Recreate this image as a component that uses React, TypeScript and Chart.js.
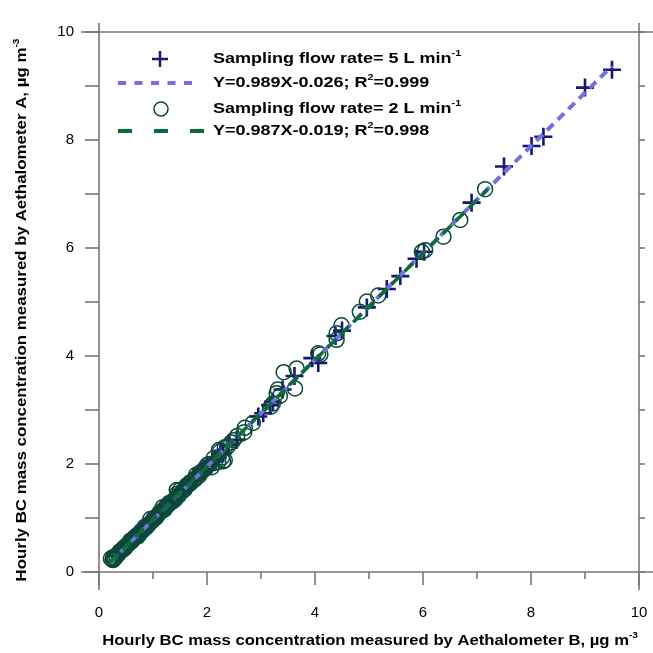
import { useEffect, useRef } from "react";
import { Chart, registerables } from "chart.js";

Chart.register(...registerables);

// ---------- data ----------
const tickValues = [0, 1, 2, 3, 4, 5, 6, 7, 8, 9, 10];
const tickLabels = ["0", "", "2", "", "4", "", "6", "", "8", "", "10"];

// Sampling flow rate = 5 L/min (crosses)
const flow5X = [
  9.5, 9.0, 8.23, 8.01, 7.5, 6.9, 6.02, 5.88, 5.58, 5.33, 4.96, 4.5, 4.38, 4.06, 3.95,
  3.62, 3.4, 3.17, 3.22, 3.04, 2.95, 2.55, 2.4, 2.3, 2.2, 2.1, 2.0, 1.9, 1.8, 1.72,
  1.65, 1.55, 1.45, 1.4, 1.3, 1.22, 1.15, 1.05, 1.0, 0.92, 0.85, 0.8, 0.72, 0.65,
  0.58, 0.5, 0.45, 0.38, 0.32, 1.95, 1.75, 1.6, 1.35, 1.1, 0.95, 0.75, 0.6, 0.42,
  2.25, 2.15, 1.5, 1.25, 0.88, 0.68,
];
const flow5Y = [
  9.3, 8.97, 8.06, 7.89, 7.51, 6.84, 5.93, 5.8, 5.48, 5.24, 4.9, 4.47, 4.37, 3.87, 3.96,
  3.63, 3.38, 3.09, 3.15, 2.94, 2.88, 2.45, 2.35, 2.2, 2.12, 2.05, 1.98, 1.85, 1.72, 1.7,
  1.6, 1.52, 1.4, 1.36, 1.25, 1.2, 1.1, 1.02, 0.95, 0.9, 0.8, 0.78, 0.7, 0.62,
  0.55, 0.5, 0.42, 0.36, 0.3, 1.9, 1.76, 1.55, 1.33, 1.06, 0.92, 0.72, 0.6, 0.4,
  2.18, 2.1, 1.47, 1.22, 0.85, 0.66,
];

// Sampling flow rate = 2 L/min (circles)
const flow2X = [
  7.15, 6.69, 6.38, 6.04, 5.98, 5.17, 4.96, 4.83, 4.49, 4.4, 4.4, 4.06, 4.1, 3.66, 3.63,
  3.42, 3.35, 3.31, 3.22, 3.18, 3.29, 2.85, 2.7, 2.69, 2.56, 2.49, 2.45, 2.33, 2.24, 2.22,
  2.21, 2.33, 2.28, 2.09, 2.12, 2.0, 1.95, 1.88, 1.8, 1.75, 1.7, 1.65, 1.6, 1.55, 1.5,
  1.44, 1.45, 1.42, 1.38, 1.3, 1.25, 1.2, 1.18, 1.12, 1.08, 1.02, 0.98, 0.95, 0.9, 0.85,
  0.82, 0.78, 0.75, 0.7, 0.66, 0.62, 0.58, 0.55, 0.5, 0.46, 0.42, 0.38, 0.35, 0.32, 0.3,
  0.28, 0.25, 0.22, 0.27, 2.15, 2.05, 1.98, 1.85, 1.78, 1.68, 1.58, 1.48, 1.35, 1.28,
  1.15, 1.05, 0.92, 0.8, 0.72, 0.6, 0.52, 0.44, 0.36, 0.26, 1.9, 1.62, 1.4, 1.22, 1.0,
  0.87, 0.68, 0.48, 2.3, 2.38,
];
const flow2Y = [
  7.09, 6.52, 6.21, 5.96, 5.93, 5.12, 5.01, 4.82, 4.57, 4.42, 4.3, 4.05, 4.03, 3.77, 3.4,
  3.7, 3.26, 3.38, 3.12, 3.06, 3.31, 2.76, 2.67, 2.59, 2.52, 2.44, 2.4, 2.31, 2.23, 2.26,
  2.04, 2.07, 2.12, 1.94, 2.1, 1.98, 1.9, 1.84, 1.8, 1.7, 1.66, 1.62, 1.55, 1.5, 1.52,
  1.52, 1.45, 1.36, 1.32, 1.28, 1.22, 1.15, 1.2, 1.1, 1.04, 1.0, 0.94, 0.98, 0.86, 0.84,
  0.78, 0.76, 0.7, 0.68, 0.64, 0.6, 0.58, 0.52, 0.48, 0.45, 0.4, 0.38, 0.33, 0.3, 0.26,
  0.24, 0.23, 0.25, 0.28, 2.02, 2.0, 1.92, 1.78, 1.72, 1.63, 1.53, 1.42, 1.3, 1.24,
  1.12, 1.0, 0.88, 0.76, 0.66, 0.56, 0.5, 0.41, 0.33, 0.22, 1.86, 1.6, 1.34, 1.17, 0.96,
  0.82, 0.64, 0.44, 2.05, 2.32,
];

// regression line end points
const fit5X = [0.2, 9.5];
const fit5Y = [0.172, 9.37];
const fit2X = [0.2, 7.2];
const fit2Y = [0.178, 7.087];

const legendTexts = [
  [{ t: "Sampling flow rate= 5 L min" }, { t: "-1", sup: true }],
  [{ t: "Y=0.989X-0.026; R" }, { t: "2", sup: true }, { t: "=0.999" }],
  [{ t: "Sampling flow rate= 2 L min" }, { t: "-1", sup: true }],
  [{ t: "Y=0.987X-0.019; R" }, { t: "2", sup: true }, { t: "=0.998" }],
];
const xTitle = [{ t: "Hourly BC mass concentration measured by Aethalometer B, " }, { t: "\u00b5g m" }, { t: "-3", sup: true }];
const yTitle = [{ t: "Hourly BC mass concentration measured by Aethalometer A, " }, { t: "\u00b5g m" }, { t: "-3", sup: true }];

// ---------- styles ----------
const CROSS = "#16167a";
const CIRCLE = "#0b4a3a";
const PURPLE = "#7272dc";
const GREEN = "#0c6b36";
const FRAME = "#767676";
const FONT = "'Liberation Sans', Arial, sans-serif";

function pts(xs: number[], ys: number[]) {
  return xs.map((x, i) => ({ x, y: ys[i] }));
}

type Part = { t: string; sup?: boolean };

function drawRich(
  ctx: CanvasRenderingContext2D,
  x: number,
  y: number,
  parts: Part[],
  size: number,
  align: "left" | "center",
  hs: number
) {
  const base = `bold ${size}px ${FONT}`;
  const small = `bold ${Math.round(size * 0.62)}px ${FONT}`;
  let total = 0;
  for (const p of parts) {
    ctx.font = p.sup ? small : base;
    total += ctx.measureText(p.t).width;
  }
  ctx.save();
  const sx = align === "center" ? x - (total * hs) / 2 : x;
  ctx.translate(sx, y);
  ctx.scale(hs, 1);
  let cx = 0;
  ctx.textAlign = "left";
  ctx.textBaseline = "middle";
  for (const p of parts) {
    ctx.font = p.sup ? small : base;
    ctx.fillText(p.t, cx, p.sup ? -size * 0.36 : 0);
    cx += ctx.measureText(p.t).width;
  }
  ctx.restore();
}

function line(ctx: CanvasRenderingContext2D, x1: number, y1: number, x2: number, y2: number) {
  ctx.beginPath();
  ctx.moveTo(x1, y1);
  ctx.lineTo(x2, y2);
  ctx.stroke();
}

const framePlugin = {
  id: "framePlugin",
  beforeDatasetsDraw(chart: any) {
    const ctx: CanvasRenderingContext2D = chart.ctx;
    const { left, right, top, bottom } = chart.chartArea;
    const xs = chart.scales.x;
    const ys = chart.scales.y;
    ctx.save();
    ctx.strokeStyle = FRAME;
    ctx.lineWidth = 1.6;
    line(ctx, left - 18, bottom, 653, bottom);
    line(ctx, left - 18, top, 653, top);
    line(ctx, left, top - 9, left, bottom + 18);
    line(ctx, right, top - 9, right, bottom + 18);
    for (const v of tickValues) {
      const px = xs.getPixelForValue(v);
      line(ctx, px, bottom, px, bottom + (v % 2 === 0 ? 13 : 7));
      const py = ys.getPixelForValue(v);
      line(ctx, left - 14, py, left, py);
      line(ctx, right, py, right + 6, py);
    }
    ctx.restore();
  },
  afterDraw(chart: any) {
    const ctx: CanvasRenderingContext2D = chart.ctx;
    ctx.save();
    ctx.fillStyle = "#000";
    // axis titles
    drawRich(ctx, 370, 641, xTitle, 15, "center", 1.11);
    ctx.save();
    ctx.translate(22, 310);
    ctx.rotate(-Math.PI / 2);
    drawRich(ctx, 0, 0, yTitle, 15, "center", 1.125);
    ctx.restore();

    // legend
    const rows = [59, 83, 109, 131];
    const tx = 213;
    ctx.strokeStyle = CROSS;
    ctx.lineWidth = 2.5;
    line(ctx, 152, rows[0], 168, rows[0]);
    line(ctx, 160, rows[0] - 8, 160, rows[0] + 8);
    ctx.strokeStyle = PURPLE;
    ctx.lineWidth = 4;
    ctx.setLineDash([8, 8.5]);
    line(ctx, 118, rows[1], 200, rows[1]);
    ctx.setLineDash([]);
    ctx.strokeStyle = CIRCLE;
    ctx.lineWidth = 1.5;
    ctx.beginPath();
    ctx.arc(161, rows[2], 7, 0, Math.PI * 2);
    ctx.stroke();
    ctx.strokeStyle = GREEN;
    ctx.lineWidth = 4;
    ctx.setLineDash([14, 22]);
    line(ctx, 118, rows[3], 204, rows[3]);
    ctx.setLineDash([]);
    ctx.fillStyle = "#000";
    legendTexts.forEach((parts, i) => drawRich(ctx, tx, rows[i], parts as Part[], 15, "left", 1.2));
    ctx.restore();
  },
};

export default function App() {
  const ref = useRef<HTMLCanvasElement | null>(null);
  useEffect(() => {
    if (!ref.current) return;
    const chart = new Chart(ref.current, {
      type: "scatter",
      data: {
        datasets: [
          {
            label: "5 L/min",
            data: pts(flow5X, flow5Y),
            pointStyle: "cross",
            pointRadius: 9,
            pointBorderWidth: 2.6,
            borderColor: CROSS,
            backgroundColor: CROSS,
            showLine: false,
            order: 4,
          },
          {
            label: "2 L/min",
            data: pts(flow2X, flow2Y),
            pointStyle: "circle",
            pointRadius: 7.5,
            pointBorderWidth: 1.5,
            borderColor: CIRCLE,
            backgroundColor: "rgba(0,0,0,0)",
            showLine: false,
            order: 3,
          },
          {
            label: "fit 5",
            data: pts(fit5X, fit5Y),
            showLine: true,
            pointRadius: 0,
            borderColor: PURPLE,
            borderWidth: 4,
            borderDash: [9, 6],
            order: 2,
          },
          {
            label: "fit 2",
            data: pts(fit2X, fit2Y),
            showLine: true,
            pointRadius: 0,
            borderColor: GREEN,
            borderWidth: 3.5,
            borderDash: [12, 6],
            order: 1,
          },
        ],
      },
      options: {
        responsive: false,
        animation: false,
        layout: { padding: { left: 0, right: 14, top: 32, bottom: 0 } },
        plugins: { legend: { display: false }, tooltip: { enabled: false } },
        scales: {
          x: {
            type: "linear",
            min: 0,
            max: 10,
            grid: { display: false, drawTicks: false },
            border: { display: false },
            afterBuildTicks: (s: any) => {
              s.ticks = tickValues.map((v) => ({ value: v }));
            },
            afterFit: (s: any) => {
              s.height = 81;
              s.paddingLeft = 0;
              s.paddingRight = 0;
            },
            ticks: {
              autoSkip: false,
              maxRotation: 0,
              padding: 32,
              color: "#000",
              font: { family: FONT, size: 15 },
              callback: (_v: any, i: number) => tickLabels[i],
            },
          },
          y: {
            type: "linear",
            min: 0,
            max: 10,
            grid: { display: false, drawTicks: false },
            border: { display: false },
            afterBuildTicks: (s: any) => {
              s.ticks = tickValues.map((v) => ({ value: v }));
            },
            afterFit: (s: any) => {
              s.width = 99;
              s.paddingTop = 0;
              s.paddingBottom = 0;
            },
            ticks: {
              autoSkip: false,
              padding: 25,
              color: "#000",
              font: { family: FONT, size: 15 },
              callback: (_v: any, i: number) => tickLabels[i],
            },
          },
        },
      },
      plugins: [framePlugin],
    } as any);
    return () => chart.destroy();
  }, []);
  return (
    <div style={{ position: "absolute", left: 0, top: 0, width: 653, height: 653, background: "#fff" }}>
      <canvas ref={ref} width={653} height={653} style={{ width: 653, height: 653 }} />
    </div>
  );
}
